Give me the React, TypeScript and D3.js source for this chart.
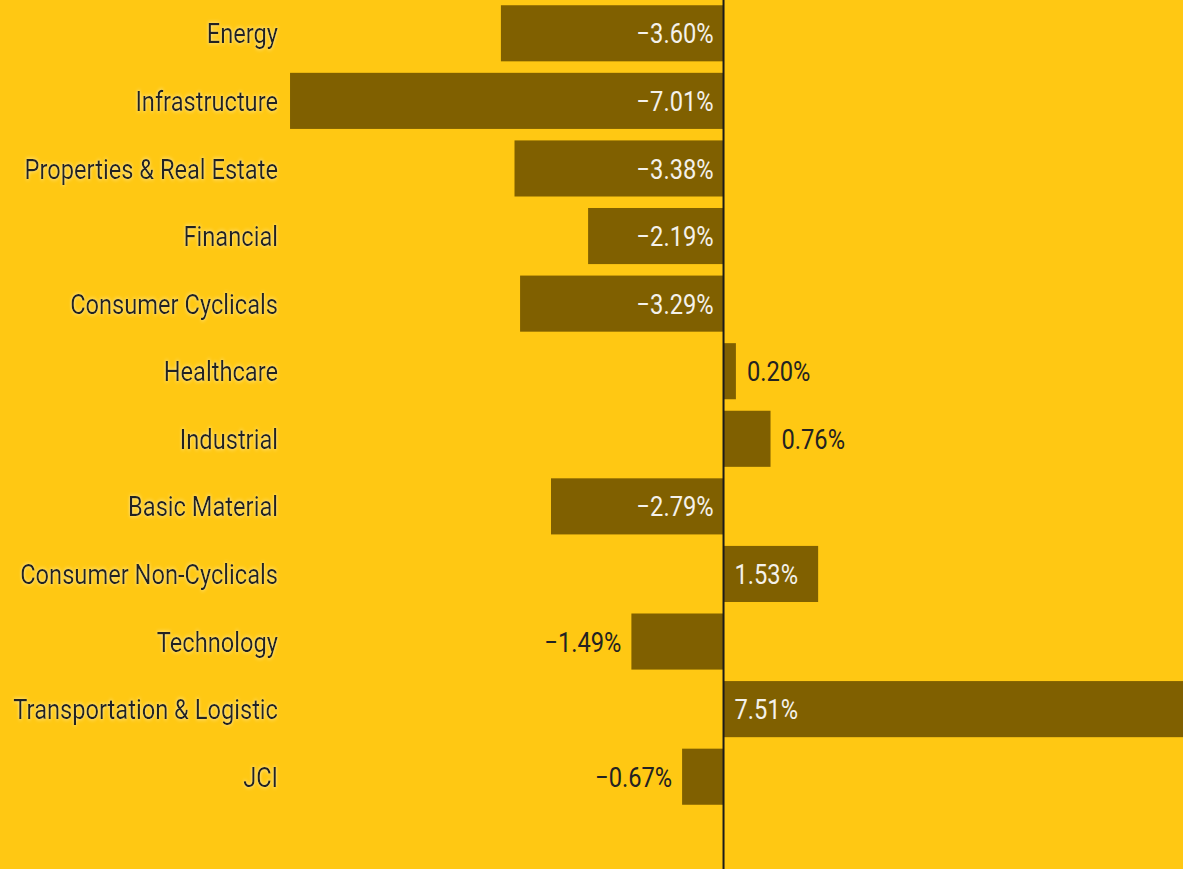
import React from "react";
import * as d3 from "d3";

const categories = [
  "Energy",
  "Infrastructure",
  "Properties & Real Estate",
  "Financial",
  "Consumer Cyclicals",
  "Healthcare",
  "Industrial",
  "Basic Material",
  "Consumer Non-Cyclicals",
  "Technology",
  "Transportation & Logistic",
  "JCI",
];
const values = [-3.6, -7.01, -3.38, -2.19, -3.29, 0.2, 0.76, -2.79, 1.53, -1.49, 7.51, -0.67];

const W = 1183;
const H = 869;
const FONT = "Roboto, 'Noto Sans', sans-serif";
const FS = 28;
const SX = 0.845;

const fmt = (v: number) => (v < 0 ? "\u2212" : "") + Math.abs(v).toFixed(2) + "%";

let ctx: CanvasRenderingContext2D | null = null;
function textW(s: string) {
  if (!ctx) {
    const c = document.createElement("canvas");
    ctx = c.getContext("2d");
  }
  if (!ctx) return s.length * 12;
  ctx.font = `${FS}px Roboto`;
  return ctx.measureText(s).width * SX;
}

export default function App() {
  const x = d3.scaleLinear().domain([-11.7, 7.43]).range([0, W]);
  const y = d3
    .scaleBand<string>()
    .domain(categories)
    .range([-0.5, 810.5])
    .paddingInner(0.17)
    .paddingOuter(0.085);
  const x0 = x(0);

  return (
    <svg
      width={W}
      height={H}
      style={{ position: "fixed", left: 0, top: 0, display: "block" }}
    >
      <defs>
        <filter id="glow" x="-10%" y="-40%" width="120%" height="180%">
          <feGaussianBlur in="SourceAlpha" stdDeviation="2.2" result="b" />
          <feFlood floodColor="#fff6cc" floodOpacity="0.85" />
          <feComposite in2="b" operator="in" result="g" />
          <feMerge>
            <feMergeNode in="g" />
            <feMergeNode in="SourceGraphic" />
          </feMerge>
        </filter>
      </defs>
      <rect x={0} y={0} width={W} height={H} fill="#FFC813" />
      {categories.map((c, i) => {
        const v = values[i];
        const yy = y(c) as number;
        const bw = y.bandwidth();
        const xa = Math.min(x(v), x0);
        const wa = Math.abs(x(v) - x0);
        const cy = yy + bw / 2;
        const label = fmt(v);
        const tw = textW(label);
        const inside = wa >= tw + 20;
        let lx: number;
        let anchor: "start" | "end";
        if (v < 0) {
          anchor = "end";
          lx = inside ? x0 - 10 : x(v) - 10;
        } else {
          anchor = "start";
          lx = inside ? x0 + 11 : x(v) + 11;
        }
        return (
          <g key={c}>
            <rect x={xa} y={yy} width={wa} height={bw} fill="#806000" />
            <g transform={`translate(${lx},${cy}) scale(${SX},1)`}>
              <text
                x={0}
                y={0}
                dy="0.36em"
                textAnchor={anchor}
                fontFamily={FONT}
                fontSize={FS}
                fill={inside ? "#f4f1ea" : "#222222"}
              >
                {label}
              </text>
            </g>
            <g transform={`translate(278,${cy}) scale(${SX},1)`}>
              <text
                x={0}
                y={0}
                dy="0.36em"
                textAnchor="end"
                fontFamily={FONT}
                fontSize={FS}
                fill="#222222"
                filter="url(#glow)"
              >
                {c}
              </text>
            </g>
          </g>
        );
      })}
      <line x1={x0} x2={x0} y1={0} y2={H} stroke="#1a1a1a" strokeWidth={2} />
    </svg>
  );
}
